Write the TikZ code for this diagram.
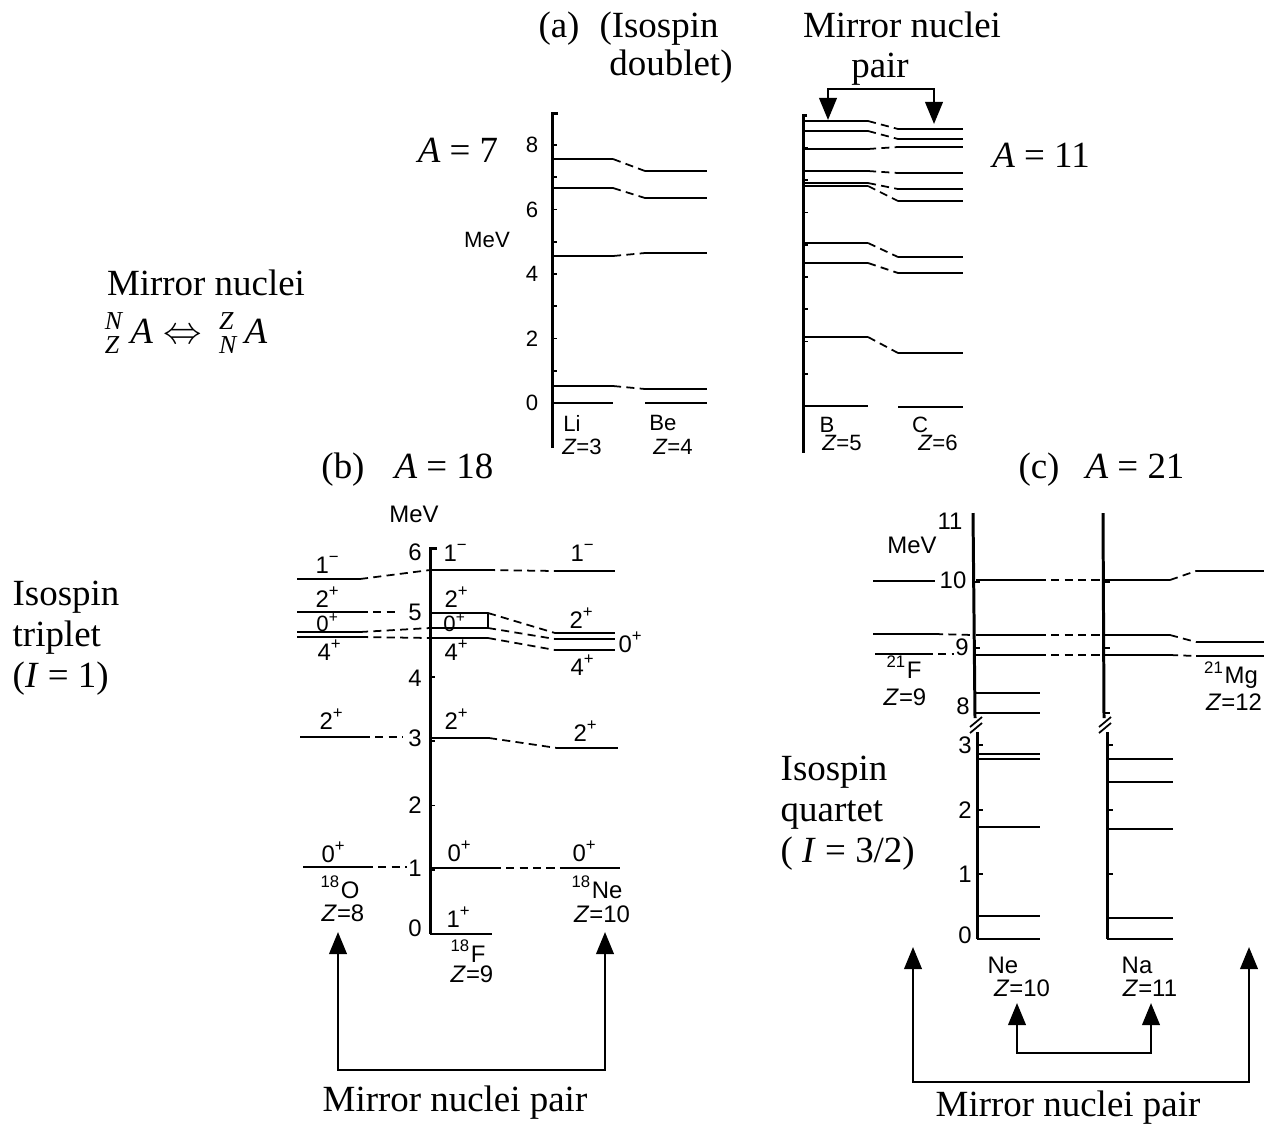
\documentclass[tikz,border=0pt]{standalone}
\usepackage{amsmath}
\usepackage{fontspec}
\setmainfont{Liberation Serif}
\newfontfamily\plotfont{Liberation Sans}
\usetikzlibrary{arrows.meta}
\tikzset{
  >={Triangle[length=6.3pt,width=5pt]},
  lev/.style={line width=0.6pt},
  link/.style={line width=0.5pt, dash pattern=on 2.3pt off 1.5pt},
  axis/.style={line width=0.85pt},
  tck/.style={line width=0.5pt},
  lbl/.style={font=\fontsize{10.5}{11.7}\selectfont, inner sep=0pt, align=left},
  num/.style={font=\plotfont\fontsize{6.8}{8}\selectfont, inner sep=0pt},
  numa/.style={font=\plotfont\fontsize{6.3}{7}\selectfont, inner sep=0pt},
  mirror/.style={<->, line width=0.7pt},
}
\newcommand{\jp}[2]{#1\textsuperscript{#2}}

\begin{document}
\begin{tikzpicture}[x=0.01cm,y=-0.01cm]
    \useasboundingbox (0,0) rectangle (1264,1130);
    % side notes
    \node[lbl] (mnl) at (206,283) {Mirror nuclei};
    \node[lbl] (mnf) at (186,333)
          {$^{\textit{N}}_{\textit{Z}}\,\textit{A}\Leftrightarrow\,{}^{\textit{Z}}_{\textit{N}}\,\textit{A}$};
    \node[lbl,anchor=west] (trip) at (12,638) {Isospin\\triplet\\(\textit{I} = 1)};
    \node[lbl,anchor=west] (quart) at (780,813) {Isospin\\quartet\\( \textit{I} = 3/2)};

    % (a) A = 7, Li / Be
    \node[lbl,anchor=base] (ta) at (559,37) {(a)};
    \node[lbl,anchor=base] (tiso) at (659,37) {(Isospin};
    \node[lbl,anchor=base] (tdbl) at (671,75) {doublet)};
    \node[lbl] (a7) at (458,150) {\textit{A} = 7};
    \node[numa] (mev7) at (487,240) {MeV};
    \draw[axis] (558,113) -- (552,113) -- (552,448);
    \foreach \m in {1,...,8}
      \draw[tck] (552,{403-32.25*\m}) -- ++(5,0);
    \foreach \m in {0,2,4,6,8}
      \node[numa] (y7\m) at (532,{403-32.25*\m}) {\m};
    \foreach \ya/\yb in {159/171,188/198,256/253,386/389}{
      \draw[lev] (553,\ya) -- (613,\ya);
      \draw[link] (613,\ya) -- (645,\yb);
      \draw[lev] (645,\yb) -- (707,\yb);
    }
    \draw[lev] (553,403) -- (613,403);
    \draw[lev] (645,403) -- (707,403);
    \node[numa] (li) at (572,423) {Li};
    \node[numa] (zli) at (582,447) {\textit{Z}=3};
    \node[numa] (be) at (663,423) {Be};
    \node[numa] (zbe) at (673,447) {\textit{Z}=4};

    % (a) A = 11, B / C
    \node[lbl,anchor=base] (mn) at (902,37) {Mirror nuclei};
    \node[lbl,anchor=base] (mnp) at (880,77) {pair};
    \node[lbl] (a11) at (1041,155) {\textit{A} = 11};
    \draw[axis] (807,115) -- (803,115) -- (803,453);
    \foreach \m in {1,...,8}
      \draw[tck] (803,{406-32.25*\m}) -- ++(5,0);
    \foreach \ya/\yb in {121/129,131/139,149/147,171/173,183/189,186/201,243/257,263/273,337/353}{
      \draw[lev] (805,\ya) -- (868,\ya);
      \draw[link] (868,\ya) -- (898,\yb);
      \draw[lev] (898,\yb) -- (963,\yb);
    }
    \draw[lev] (805,406) -- (868,406);
    \draw[lev] (898,407) -- (963,407);
    \node[numa] (bo) at (827,425) {B};
    \node[numa] (zbo) at (842,443) {\textit{Z}=5};
    \node[numa] (ca) at (920,425) {C};
    \node[numa] (zca) at (938,443) {\textit{Z}=6};
    \coordinate (bB) at (828,120);
    \coordinate (bC) at (934,124);
    \coordinate (brA) at (880,89);
    \draw[mirror] (bB) |- (brA) -| (bC);

    % (b) A = 18
    \node[lbl,anchor=base] (tb) at (343,478) {(b)};
    \node[lbl,anchor=base] (a18) at (444,478) {\textit{A} = 18};
    \node[num] (mev18) at (414,514) {MeV};
    \draw[axis] (437,548) -- (430,548) -- (430,934);
    \foreach \m in {1,...,5}
      \draw[tck] (430,{934-64.3*\m}) -- ++(5,0);
    \foreach \m/\y in {6/552,5/612,4/678,3/738,2/805,1/868,0/928}
      \node[num] (y18\m) at (415,\y) {\m};
    % 18O
    \foreach \y in {579,612,632,637}
      \draw[lev] (297,\y) -- (360,\y);
    \draw[lev] (300,737) -- (362,737);
    \draw[lev] (303,867) -- (365,867);
    % 18F
    \draw[lev] (430,570) -- (487,570);
    \foreach \y in {613,628,638}
      \draw[lev] (430,\y) -- (488,\y);
    \draw[lev] (488,613) -- (488,628);
    \draw[lev] (430,738) -- (489,738);
    \draw[lev] (430,868) -- (493,868);
    \draw[lev] (430,934) -- (492,934);
    % 18Ne
    \foreach \y in {571,633,639,650}
      \draw[lev] (555,\y) -- (615,\y);
    \draw[lev] (557,748) -- (618,748);
    \draw[lev] (560,868) -- (620,868);
    % analogue states
    \draw[link] (360,579) -- (430,570);
    \draw[link] (360,612) -- (399,612);
    \draw[link] (360,632) -- (430,628);
    \draw[link] (360,637) -- (430,638);
    \draw[link] (362,737) -- (403,737);
    \draw[link] (365,867) -- (407,867);
    \draw[link] (487,570) -- (555,571);
    \draw[link] (488,613) -- (555,633);
    \draw[link] (488,628) -- (555,639);
    \draw[link] (488,638) -- (555,650);
    \draw[link] (489,738) -- (557,748);
    \draw[link] (493,868) -- (560,868);
    \foreach \n/\x/\y/\j/\p in {o1/328/565/1/−, o2/328/597/2/+, o4/330/650/4/+,
        o5/332/719/2/+, o6/334/852/0/+, f1/456/553/1/−, f2/457/597/2/+,
        f4/457/650/4/+, f5/457/719/2/+, f6/460/851/0/+, f7/459/917/1/+, n1/583/553/1/−,
        n2/582/618/2/+, n3/631/642/0/+, n4/583/665/4/+, n5/586/731/2/+, n6/585/851/0/+}
      \node[num] (s\n) at (\x,\y) {\jp{\j}{\p}};
    \node[numa] (so3) at (328,623) {\jp{0}{+}};
    \node[numa] (sf3) at (455,623) {\jp{0}{+}};
    \node[num] (oxy) at (340,887) {\textsuperscript{18}O};
    \node[num] (zoxy) at (343,913) {\textit{Z}=8};
    \node[num] (flu) at (468,951) {\textsuperscript{18}F};
    \node[num] (zflu) at (472,974) {\textit{Z}=9};
    \node[num] (neo) at (597,887) {\textsuperscript{18}Ne};
    \node[num] (zneo) at (602,914) {\textit{Z}=10};
    \coordinate (pO) at (338,932);
    \coordinate (pNe) at (605,932);
    \coordinate (brB) at (470,1070);
    \draw[mirror] (pO) |- (brB) -| (pNe);
    \node[lbl] (mpb) at (455,1103) {Mirror nuclei pair};

    % (c) A = 21
    \node[lbl,anchor=base] (tc) at (1039,478) {(c)};
    \node[lbl,anchor=base] (a21) at (1135,478) {\textit{A} = 21};
    \node[num] (mev21) at (912,545) {MeV};
    \draw[axis] (973,513) -- (975,718);
    \draw[axis] (977,732) -- (977,939);
    \draw[axis] (1103,513) -- (1104,718);
    \draw[axis] (1107,732) -- (1107,939);
    \foreach \x in {976,1105}{
      \draw[tck] (\x-6,727) -- (\x+6,717);
      \draw[tck] (\x-6,733) -- (\x+6,723);
    }
    \foreach \y in {582,648,713}{
      \draw[tck] (974,\y) -- ++(6,0);
      \draw[tck] (1104,\y) -- ++(6,0);
    }
    \foreach \y in {745,810,874}{
      \draw[tck] (977,\y) -- ++(6,0);
      \draw[tck] (1107,\y) -- ++(6,0);
    }
    \foreach \m/\x/\y in {11/950/521,10/953/580,9/962/647,8/963/706,3/965/745,2/965/810,1/965/874,0/965/935}
      \node[num] (y21\m) at (\x,\y) {\m};
    % 21F
    \draw[lev] (873,581) -- (935,581);
    \draw[lev] (873,634) -- (935,634);
    \draw[link] (935,634) -- (973,635);
    \draw[lev] (875,654) -- (925,654);
    \draw[link] (925,654) -- (954,654);
    % Ne, Na, 21Mg
    \foreach \yn/\ym in {580/571,635/642,655/656}{
      \draw[lev] (976,\yn) -- (1038,\yn);
      \draw[link] (1038,\yn) -- (1104,\yn);
      \draw[lev] (1105,\yn) -- (1170,\yn);
      \draw[link] (1170,\yn) -- (1196,\ym);
      \draw[lev] (1196,\ym) -- (1264,\ym);
    }
    \foreach \y in {693,713}
      \draw[lev] (976,\y) -- (1040,\y);
    \foreach \y in {754,759,827,916,939}
      \draw[lev] (977,\y) -- (1040,\y);
    \foreach \y in {759,782,829,918,939}
      \draw[lev] (1107,\y) -- (1173,\y);
    \node[num] (fl21) at (904,667) {\textsuperscript{21}F};
    \node[num] (zfl21) at (905,697) {\textit{Z}=9};
    \node[num] (mg21) at (1231,675) {\textsuperscript{21}Mg};
    \node[num] (zmg21) at (1234,702) {\textit{Z}=12};
    \node[num] (ne21) at (1003,965) {Ne};
    \node[num] (zne21) at (1022,988) {\textit{Z}=10};
    \node[num] (na21) at (1137,965) {Na};
    \node[num] (zna21) at (1150,988) {\textit{Z}=11};
    \coordinate (pF) at (913,947);
    \coordinate (pMg) at (1249,947);
    \coordinate (brC) at (1080,1082);
    \draw[mirror] (pF) |- (brC) -| (pMg);
    \coordinate (pNe21) at (1017,1003);
    \coordinate (pNa21) at (1151,1003);
    \coordinate (brD) at (1084,1053);
    \draw[mirror] (pNe21) |- (brD) -| (pNa21);
    \node[lbl] (mpc) at (1068,1108) {Mirror nuclei pair};
\end{tikzpicture}
\end{document}
